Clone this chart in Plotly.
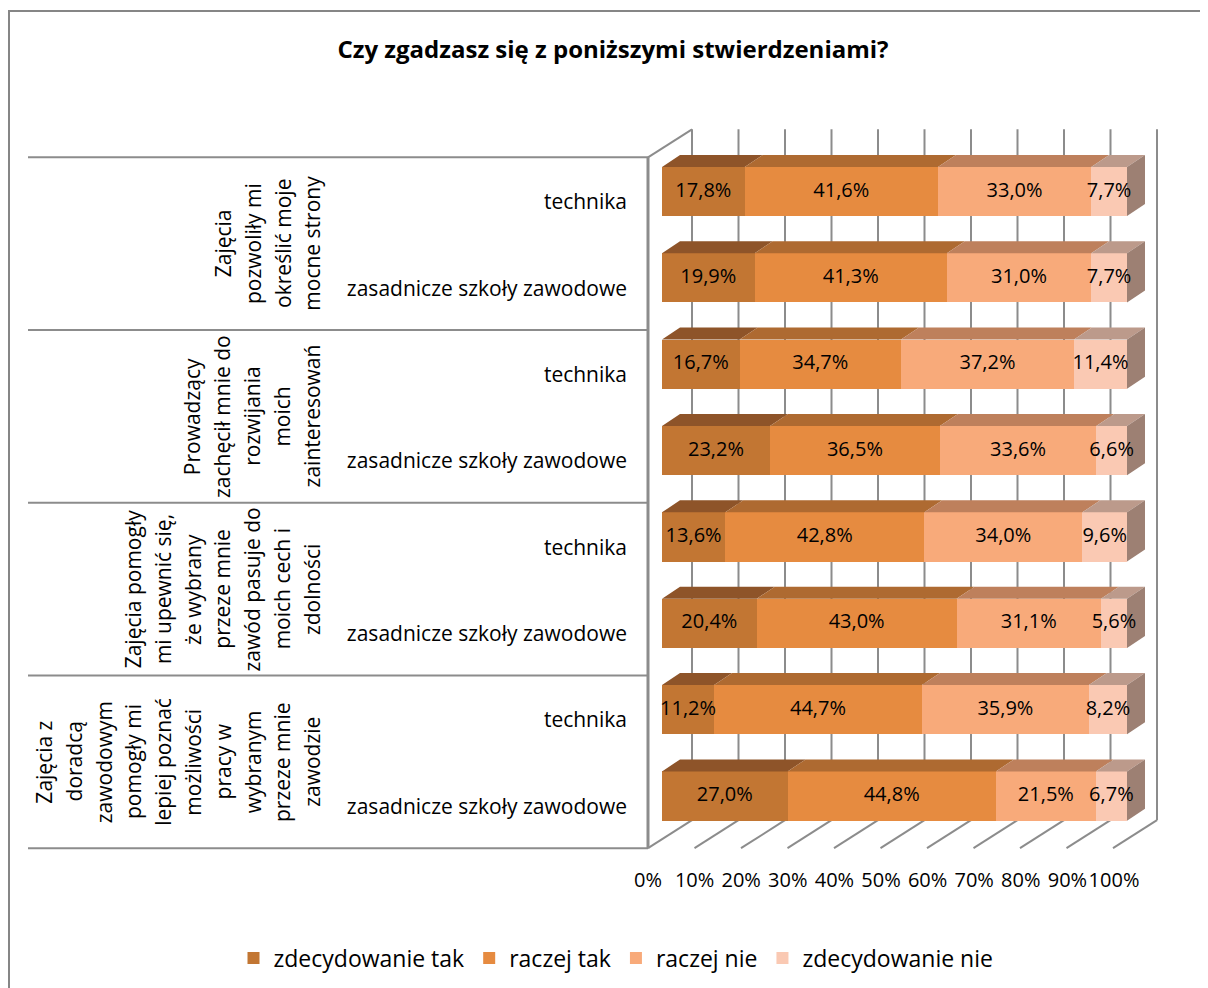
import numpy as np
import plotly.graph_objects as go

# ---------------- data ----------------
title_text = "Czy zgadzasz się z poniższymi stwierdzeniami?"
series_names = ["zdecydowanie tak", "raczej tak", "raczej nie", "zdecydowanie nie"]
row_labels = ["technika", "zasadnicze szkoły zawodowe"] * 4
group_labels = [
    ["Zajęcia", "pozwoliły mi", "określić moje", "mocne strony"],
    ["Prowadzący", "zachęcił mnie do", "rozwijania", "moich", "zainteresowań"],
    ["Zajęcia pomogły", "mi upewnić się,", "że wybrany", "przeze mnie",
     "zawód pasuje do", "moich cech i", "zdolności"],
    ["Zajęcia z", "doradcą", "zawodowym", "pomogły mi", "lepiej poznać",
     "możliwości", "pracy w", "wybranym", "przeze mnie", "zawodzie"],
]
zdecydowanie_tak = [17.8, 19.9, 16.7, 23.2, 13.6, 20.4, 11.2, 27.0]
raczej_tak = [41.6, 41.3, 34.7, 36.5, 42.8, 43.0, 44.7, 44.8]
raczej_nie = [33.0, 31.0, 37.2, 33.6, 34.0, 31.1, 35.9, 21.5]
zdecydowanie_nie = [7.7, 7.7, 11.4, 6.6, 9.6, 5.6, 8.2, 6.7]
tick_values = list(range(0, 101, 10))
tick_labels = [f"{v}%" for v in tick_values]

# ---------------- styles / geometry ----------------
front_colors = ["#C27633", "#E68B40", "#F8AA7A", "#FAC9B3"]
top_colors = ["#8E5429", "#AE6A31", "#BE805C", "#BC9A8B"]
side_color = "#9D8073"
grid_color = "#8C8C8C"
FONT = "Open Sans"

W, H = 1208, 988
SHIFT = 8  # page body margin offsets the figure by 8px


def fx(px):  # reference pixel -> paper x
    return (px - SHIFT) / W


def fy(py):  # reference pixel -> paper y
    return 1 - (py - SHIFT) / H


X0_PX, PX_PER_PCT = 662.0 - SHIFT, 4.65      # bar front plane: 0% at x=662px
Y0_PX, PX_PER_ROW = 191.5 - SHIFT, 86.36     # first bar centre / row pitch


def ux(px):
    return (px - SHIFT - X0_PX) / PX_PER_PCT


def ux_d(dpx):
    return dpx / PX_PER_PCT


def uy_d(dpx):
    return dpx / PX_PER_ROW


FLOOR_DX, FLOOR_DY = ux_d(-14), uy_d(9)     # front plane relative to bar fronts
BACK_DX, BACK_DY = ux_d(30), uy_d(-19)      # back wall relative to bar fronts
BAR_DX, BAR_DY = ux_d(18), uy_d(-12)        # bar depth
BAR_W = 0.57

vals = np.array([zdecydowanie_tak, raczej_tak, raczej_nie, zdecydowanie_nie])
n_rows = vals.shape[1]
ys = np.arange(n_rows)
norm = vals / vals.sum(axis=0) * 100
cum_hi = np.cumsum(norm, axis=0)
cum_lo = cum_hi - norm

fig = go.Figure()

# front faces (real stacked bars)
for s, name in enumerate(series_names):
    fig.add_trace(go.Bar(
        y=ys, x=vals[s], orientation="h", name=name, width=BAR_W,
        marker=dict(color=front_colors[s], line=dict(width=0)),
        textposition="none", hoverinfo="skip",
    ))

# top faces of every segment
for s in range(len(series_names)):
    px_, py_ = [], []
    for r in range(n_rows):
        top = ys[r] - BAR_W / 2
        x0, x1 = cum_lo[s, r], cum_hi[s, r]
        px_ += [x0, x1, x1 + BAR_DX, x0 + BAR_DX, x0, None]
        py_ += [top, top, top + BAR_DY, top + BAR_DY, top, None]
    fig.add_trace(go.Scatter(x=px_, y=py_, mode="lines", fill="toself",
                             fillcolor=top_colors[s], line=dict(width=0),
                             showlegend=False, hoverinfo="skip"))

# right side faces
px_, py_ = [], []
for r in range(n_rows):
    top, bot = ys[r] - BAR_W / 2, ys[r] + BAR_W / 2
    xe = cum_hi[-1, r]
    px_ += [xe, xe, xe + BAR_DX, xe + BAR_DX, xe, None]
    py_ += [top, bot, bot + BAR_DY, top + BAR_DY, top, None]
fig.add_trace(go.Scatter(x=px_, y=py_, mode="lines", fill="toself",
                         fillcolor=side_color, line=dict(width=0),
                         showlegend=False, hoverinfo="skip"))

# data labels (drawn on top of all faces)
for s in range(len(series_names)):
    fig.add_trace(go.Scatter(
        x=(cum_lo[s] + cum_hi[s]) / 2, y=ys, mode="text",
        customdata=vals[s], texttemplate="%{customdata:.1f}%",
        textposition="middle center",
        textfont=dict(family=FONT, size=20, color="black"),
        showlegend=False, hoverinfo="skip"))

# dummy trace to carry the percentage axis
fig.add_trace(go.Scatter(x=[0, 100], y=[-50, -50], xaxis="x2", mode="markers",
                         marker=dict(opacity=0), showlegend=False, hoverinfo="skip"))

shapes = []
y_top = -0.5
y_bot = n_rows - 0.5
# back wall gridlines + floor lines
for v in tick_values:
    shapes.append(dict(type="line", xref="x", yref="y", layer="below",
                       x0=v + BACK_DX, x1=v + BACK_DX,
                       y0=y_top + BACK_DY, y1=y_bot + BACK_DY,
                       line=dict(color=grid_color, width=2)))
    shapes.append(dict(type="line", xref="x", yref="y", layer="below",
                       x0=v + BACK_DX, x1=v + FLOOR_DX,
                       y0=y_bot + BACK_DY, y1=y_bot + FLOOR_DY,
                       line=dict(color=grid_color, width=2)))
# left wall
shapes.append(dict(type="line", xref="x", yref="y", layer="below",
                   x0=FLOOR_DX, x1=FLOOR_DX, y0=y_top + FLOOR_DY, y1=y_bot + FLOOR_DY,
                   line=dict(color=grid_color, width=3)))
shapes.append(dict(type="line", xref="x", yref="y", layer="below",
                   x0=FLOOR_DX, x1=BACK_DX, y0=y_top + FLOOR_DY, y1=y_top + BACK_DY,
                   line=dict(color=grid_color, width=2)))
# group separators
for g in range(len(group_labels) + 1):
    yy = 2 * g - 0.5 + FLOOR_DY
    shapes.append(dict(type="line", xref="x", yref="y", layer="below",
                       x0=ux(28), x1=FLOOR_DX, y0=yy, y1=yy,
                       line=dict(color=grid_color, width=2)))
# chart border
shapes.append(dict(type="rect", xref="paper", yref="paper",
                   x0=fx(9), x1=1.05, y0=fy(11), y1=-0.05,
                   line=dict(color="#868686", width=2), fillcolor="rgba(0,0,0,0)"))

annotations = []
COL_RIGHT_PX, COL_STEP_PX = 312, 29.8
for g, lines in enumerate(group_labels):
    n = len(lines)
    for k, line in enumerate(lines):
        annotations.append(dict(
            xref="x", yref="y", x=ux(COL_RIGHT_PX - (n - 1 - k) * COL_STEP_PX),
            y=2 * g + 0.5 + FLOOR_DY, text=line, textangle=-90, showarrow=False,
            xanchor="center", yanchor="middle",
            font=dict(family=FONT, size=21, color="black")))

fig.update_layout(
    width=W, height=H, autosize=False,
    margin=dict(l=0, r=0, t=0, b=0),
    paper_bgcolor="white", plot_bgcolor="white",
    font=dict(family=FONT, color="black"),
    barmode="stack", barnorm="percent",
    separators=", ",
    hovermode=False,
    title=dict(text="<b>" + title_text + "</b>", x=fx(613), y=fy(50),
               xanchor="center", yanchor="middle",
               font=dict(family=FONT, size=24, color="black")),
    xaxis=dict(range=[ux(SHIFT), ux(W + SHIFT)], visible=False, fixedrange=True),
    xaxis2=dict(overlaying="x", anchor="free", position=fy(866), side="bottom",
                range=[(SHIFT - 648) / 4.66, (W + SHIFT - 648) / 4.66],
                tickmode="array", tickvals=tick_values, ticktext=tick_labels,
                tickangle=0, ticks="", showgrid=False, zeroline=False, showline=False,
                tickfont=dict(family=FONT, size=20, color="black")),
    yaxis=dict(range=[(H - Y0_PX) / PX_PER_ROW, (0 - Y0_PX) / PX_PER_ROW],
               anchor="free", position=fx(627), side="left",
               tickvals=list(ys + 0.12), ticktext=row_labels, ticks="",
               showgrid=False, zeroline=False, showline=False,
               tickfont=dict(family=FONT, size=21, color="black")),
    legend=dict(orientation="h", x=fx(616), xanchor="center", y=fy(958),
                yanchor="middle", traceorder="normal",
                font=dict(family=FONT, size=23, color="black"),
                itemclick=False, itemdoubleclick=False),
    shapes=shapes,
    annotations=annotations,
)

fig.write_html("out.html")
